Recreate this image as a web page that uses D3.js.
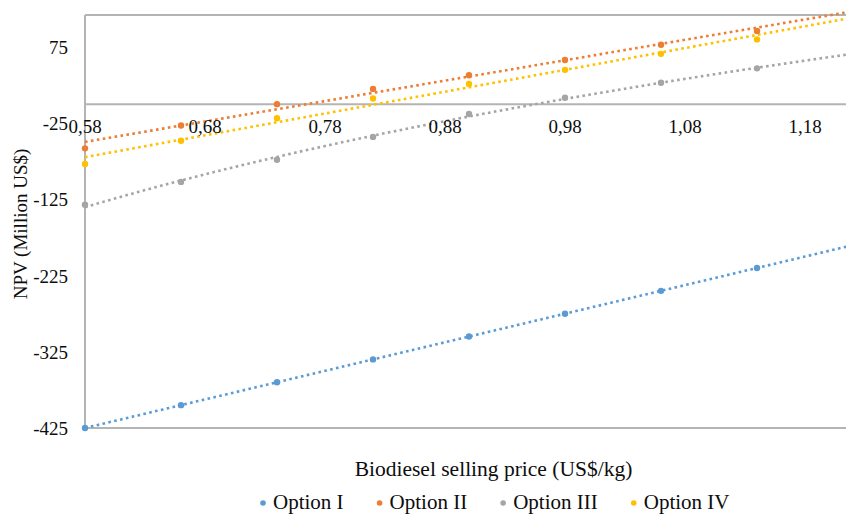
<!DOCTYPE html>
<html>
<head>
<meta charset="utf-8">
<script src="https://cdn.jsdelivr.net/npm/d3@7/dist/d3.min.js"></script>
<style>
  html, body { margin: 0; padding: 0; background: #fff; }
  svg { display: block; }
</style>
</head>
<body>
<svg id="chart" width="846" height="515" font-family="'Liberation Serif', 'Times New Roman', Times, serif"></svg>
<script>
// ---- data ----
const prices = [0.58, 0.66, 0.74, 0.82, 0.90, 0.98, 1.06, 1.14];
const optionI   = [-425, -395, -365, -335, -305, -275, -245, -215];
const optionII  = [-58, -28, 0, 20, 38, 58, 78, 96];
const optionIII = [-132, -102, -73, -43, -13, 8.5, 28, 47];
const optionIV  = [-78.5, -48, -18.5, 7.5, 26.5, 45, 66, 85];
const seriesNames = ["Option I", "Option II", "Option III", "Option IV"];
const trendTypes = ["linear", "linear", "log", "linear"];
const xTicks = [0.58, 0.68, 0.78, 0.88, 0.98, 1.08, 1.18];
const yTicks = [75, -25, -125, -225, -325, -425];
const colors = ["#5B9BD5", "#ED7D31", "#A5A5A5", "#FFC000"];

const seriesValues = [optionI, optionII, optionIII, optionIV];

(function () {
const svg = d3.select("#chart");
const pLeft = 85, pTop = 15, pBottom = 428;
const textColor = "#0d0d0d";

const x = d3.scaleLinear().domain([0.58, 1.22]).range([pLeft, pLeft + 0.64 * 1200]);
const y = d3.scaleLinear().domain([-425, 117]).range([pBottom, pTop]);

const axisColor = "#B4B4B4";

// plot borders / axes
svg.append("line").attr("x1", pLeft).attr("x2", 846).attr("y1", pTop).attr("y2", pTop)
  .attr("stroke", axisColor).attr("stroke-width", 2);
svg.append("line").attr("x1", pLeft).attr("x2", 846).attr("y1", pBottom).attr("y2", pBottom)
  .attr("stroke", axisColor).attr("stroke-width", 2);
svg.append("line").attr("x1", pLeft).attr("x2", pLeft).attr("y1", pTop).attr("y2", pBottom)
  .attr("stroke", axisColor).attr("stroke-width", 2);
svg.append("line").attr("x1", pLeft).attr("x2", 846).attr("y1", y(0)).attr("y2", y(0))
  .attr("stroke", axisColor).attr("stroke-width", 2);

// trendline fits computed from the data
function fit(xs, ys, type) {
  const tx = type === "log" ? xs.map(Math.log) : xs;
  const mx = d3.mean(tx), my = d3.mean(ys);
  let sxy = 0, sxx = 0;
  tx.forEach((v, i) => { sxy += (v - mx) * (ys[i] - my); sxx += (v - mx) * (v - mx); });
  const a = sxy / sxx, b = my - a * mx;
  return type === "log" ? (v => a * Math.log(v) + b) : (v => a * v + b);
}

const trendXs = d3.range(0.58, 1.2201, 0.005);
const lineGen = d3.line().x(d => x(d[0])).y(d => y(d[1]));

seriesValues.forEach((vals, i) => {
  const f = fit(prices, vals, trendTypes[i]);
  svg.append("path")
    .datum(trendXs.map(v => [v, f(v)]))
    .attr("d", lineGen)
    .attr("fill", "none")
    .attr("stroke", colors[i])
    .attr("stroke-width", 2.6)
    .attr("stroke-dasharray", "2.6 3.4");
});

seriesValues.forEach((vals, i) => {
  svg.append("g").selectAll("circle")
    .data(vals.map((v, j) => [prices[j], v]))
    .join("circle")
    .attr("cx", d => x(d[0]))
    .attr("cy", d => y(d[1]))
    .attr("r", 3.2)
    .attr("fill", colors[i]);
});

// x tick labels
const fmt = d3.format(".2f");
svg.append("g").selectAll("text")
  .data(xTicks)
  .join("text")
  .attr("x", d => x(d))
  .attr("y", 133)
  .attr("text-anchor", "middle")
  .attr("font-size", 19)
  .attr("fill", textColor)
  .text(d => fmt(d).replace(".", ","));

// y tick labels
svg.append("g").selectAll("text")
  .data(yTicks)
  .join("text")
  .attr("x", 68)
  .attr("y", d => y(d) + 7)
  .attr("text-anchor", "end")
  .attr("font-size", 19)
  .attr("fill", textColor)
  .text(d => d);

// axis titles
svg.append("text")
  .attr("transform", "translate(27,224) rotate(-90)")
  .attr("text-anchor", "middle")
  .attr("font-size", 19)
  .attr("fill", textColor)
  .text("NPV (Million US$)");

svg.append("text")
  .attr("x", 493.5)
  .attr("y", 476)
  .attr("text-anchor", "middle")
  .attr("font-size", 21.5)
  .attr("fill", textColor)
  .text("Biodiesel selling price (US$/kg)");

// legend
let lx = 263;
seriesNames.forEach((name, i) => {
  svg.append("circle").attr("cx", lx).attr("cy", 503).attr("r", 2.8).attr("fill", colors[i]);
  const t = svg.append("text").attr("x", lx + 10).attr("y", 509).attr("font-size", 21)
    .attr("fill", textColor).text(name);
  lx = lx + 10 + t.node().getComputedTextLength() + 36;
});
})();
</script>
</body>
</html>
